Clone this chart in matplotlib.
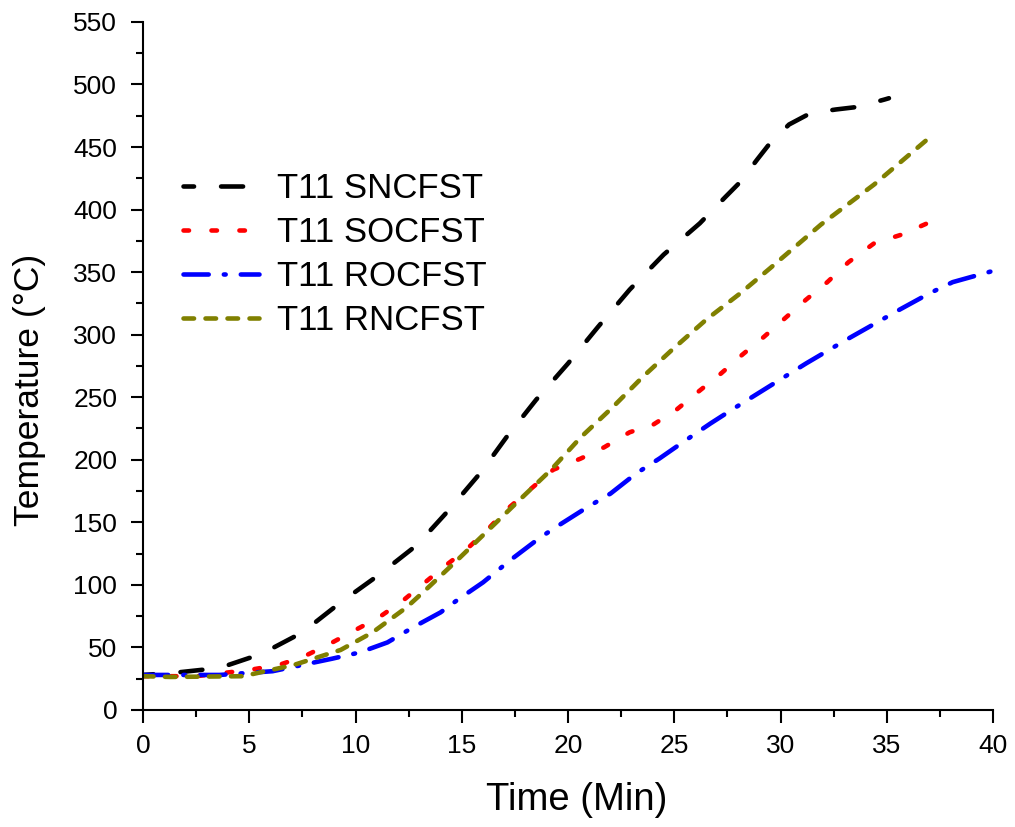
import matplotlib.pyplot as plt
from matplotlib.ticker import MultipleLocator

plt.rcParams['font.family'] = ['Liberation Sans', 'DejaVu Sans']

# T11 SNCFST
t_sn = [0, 1.4, 3.6, 5.6, 7.5, 9.3, 11.1, 12.9, 14.4, 15.9, 17.1, 18.5, 20.0,
        21.4, 22.9, 24.5, 26.2, 27.4, 28.1, 28.9, 29.5, 30.4, 31.4, 32.6, 33.6,
        34.9, 35.1]
T_sn = [28, 29.6, 33.6, 45, 62, 86, 108, 132, 160, 190, 218, 248, 277,
        306, 336, 364, 389, 410, 422, 440, 453, 468, 477, 480, 482, 488, 489]

# T11 SOCFST
t_so = [0, 2.5, 5.0, 6.4, 7.6, 8.8, 10.0, 11.1, 12.2, 13.2, 14.2, 15.2, 16.2,
        17.1, 18.2, 19.3, 20.6, 21.7, 22.9, 24.0, 25.1, 26.1, 27.2, 28.2, 29.2,
        30.2, 31.2, 32.2, 33.2, 34.4, 35.7, 36.9]
T_so = [27, 27, 32, 36, 43, 53, 64, 74, 87, 101, 115, 128, 144,
        160, 176, 192, 201, 210, 222, 228, 240, 254, 269, 284, 298,
        313, 328, 342, 358, 373, 380, 389]

# T11 ROCFST
t_ro = [0, 3.6, 6.1, 7.5, 8.9, 10.2, 11.5, 12.7, 14.0, 14.8, 16.0, 17.3, 18.7,
        19.6, 20.9, 22.0, 23.2, 24.3, 25.4, 26.7, 27.8, 29.5, 31.2, 33.1, 35.6,
        37.0, 38.1, 40.0]
T_ro = [28, 28, 31, 36, 41, 46, 54, 66, 78, 88, 102, 120, 138,
        148, 162, 173, 189, 201, 214, 229, 241, 259, 277, 296, 320,
        333, 342, 351]

# T11 RNCFST
t_rn = [0, 1.3, 4.7, 7.1, 8.2, 9.3, 10.8, 12.4, 13.3, 14.8, 16.2, 17.6, 19.2,
        20.6, 22.1, 23.5, 24.9, 26.5, 28.1, 29.5, 31.9, 34.4, 36.9]
T_rn = [27, 26.4, 27, 36, 42, 48, 62, 82, 96, 120, 143, 166, 192,
        218, 242, 266, 288, 312, 333, 353, 388, 420, 456]

labels = ['T11 SNCFST', 'T11 SOCFST', 'T11 ROCFST', 'T11 RNCFST']

fig = plt.figure(figsize=(10.15, 8.27), dpi=100)
ax = fig.add_axes([0.1409, 0.1415, 0.8375, 0.832])

lw = 3.3
ax.plot(t_sn, T_sn, color='black', lw=lw, linestyle=(2.5, (4.8, 5.9)),
        dash_capstyle='round', label=labels[0])
ax.plot(t_so, T_so, color='#ff0000', lw=lw, linestyle=(0, (1.2, 4.9)),
        dash_capstyle='round', label=labels[1])
ax.plot(t_ro, T_ro, color='#0000ff', lw=lw, linestyle=(0, (5.5, 3.3, 0.4, 3.3)),
        dash_capstyle='round', label=labels[2])
ax.plot(t_rn, T_rn, color='#808000', lw=lw, linestyle=(0, (2.3, 2.5)),
        dash_capstyle='round', label=labels[3])

ax.set_xlim(0, 40)
ax.set_ylim(0, 550)
ax.xaxis.set_major_locator(MultipleLocator(5))
ax.xaxis.set_minor_locator(MultipleLocator(2.5))
ax.yaxis.set_major_locator(MultipleLocator(50))
ax.yaxis.set_minor_locator(MultipleLocator(25))

for side in ['top', 'right']:
    ax.spines[side].set_visible(False)
for side in ['left', 'bottom']:
    ax.spines[side].set_linewidth(1.5)

ax.tick_params(which='major', direction='out', length=9, width=1.5,
               labelsize=19)
ax.tick_params(axis='x', which='major', pad=8)
ax.tick_params(axis='y', which='major', pad=9.5)
ax.tick_params(which='minor', direction='out', length=5, width=1.5)

ax.set_xlabel('Time (Min)', fontsize=27.5, va='center')
ax.set_ylabel('Temperature (°C)', fontsize=25.5, va='center')
ax.xaxis.set_label_coords(0.51, -0.131)
ax.yaxis.set_label_coords(-0.133, 0.465)

ax.legend(loc='upper left', bbox_to_anchor=(0.047, 0.782), frameon=False,
          fontsize=25, handlelength=2.2, handletextpad=0.5, labelspacing=0.32,
          borderpad=0, borderaxespad=0)

fig.savefig('out.png', dpi=100)
